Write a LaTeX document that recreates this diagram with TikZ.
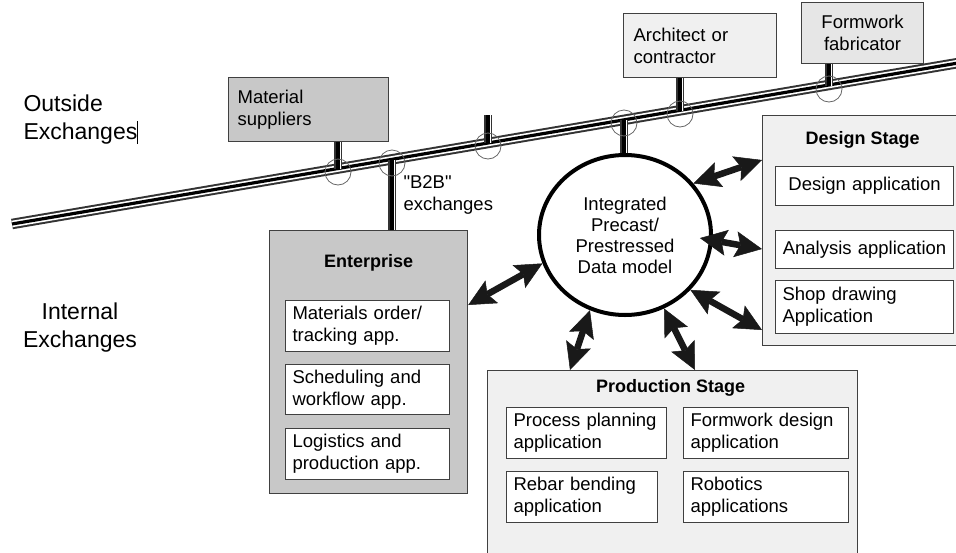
\documentclass[tikz,border=0pt]{standalone}
\usepackage{fontspec}
\setmainfont{Liberation Sans}[Ligatures=TeXOff]
\usetikzlibrary{arrows.meta,shapes.geometric,positioning}

\definecolor{boxgray}{HTML}{C8C8C8}
\definecolor{palegray}{HTML}{F0F0F0}
\definecolor{lightgray}{HTML}{E6E6E6}
\definecolor{edgegray}{HTML}{404040}
\newcommand{\appfont}{\fontsize{18.5}{22}\selectfont}

\begin{document}
\begin{tikzpicture}[x=1pt, y=-1pt,
    pipe/.style={line width=6.5pt, white, preaction={draw, black!80, line width=10.5pt}, postaction={draw, black, line width=3.2pt}},
    stub/.style={line width=5pt, white, preaction={draw, black!80, line width=8pt}, postaction={draw, black, line width=3.5pt}},
    joint/.style={draw=black!60, line width=0.8pt},
    party/.style={draw=edgegray, line width=1.2pt, anchor=north west, align=left, font=\appfont},
    stage/.style={draw=edgegray, line width=1.2pt, anchor=north west, inner sep=0pt},
    ttl/.style={font=\fontsize{18}{21}\selectfont\bfseries},
    app/.style={draw=edgegray, fill=white, line width=1.1pt, anchor=north west, align=left, inner xsep=7pt, inner ysep=0pt, minimum height=51pt, font=\appfont, text width=#1},
    app/.default=150pt,
    dmodel/.style={ellipse, draw, line width=4pt, minimum width=172pt, minimum height=160pt, inner sep=0pt, align=center, font=\fontsize{18.5}{21}\selectfont},
    dbl/.style={{Stealth[length=27pt,width=26pt,inset=5pt,line width=0.5pt]}-{Stealth[length=27pt,width=26pt,inset=5pt,line width=0.5pt]}, line width=6.5pt, black!90},
    side/.style={font=\fontsize{23}{28}\selectfont},
    lbl/.style={font=\appfont, align=left},
]
\useasboundingbox (0,0) rectangle (956,552);

% Outside exchange parties
\node[party, fill=boxgray, minimum width=160pt, minimum height=64pt, text width=142pt, inner xsep=9pt] (sup) at (228,77) {Material\\suppliers};
\node[party, fill=palegray, minimum width=153pt, minimum height=64pt, text width=133pt, inner xsep=10pt] (arch) at (623,13) {Architect or\\contractor};
\node[party, fill=lightgray, align=center, minimum width=122pt, minimum height=61pt, text width=106pt, inner xsep=8pt] (form) at (801,2) {Formwork\\fabricator};

% Stages
\node[stage, fill=boxgray, minimum width=198pt, minimum height=263pt] (ent) at (269,230) {};
\node[stage, fill=palegray, minimum width=194pt, minimum height=230pt] (ds) at (762,115) {};
\node[stage, fill=palegray, minimum width=370pt, minimum height=184pt] (ps) at (487,370) {};
\node[ttl] (entT) at ([yshift=-33pt]ent.north) {Enterprise};
\node[ttl] (dsT) at ([xshift=3pt,yshift=-25pt]ds.north) {Design Stage};
\node[ttl] (psT) at ([xshift=-2pt,yshift=-18pt]ps.north) {Production Stage};

% Enterprise applications
\node[app] (ent1) at (285,300) {Materials order/\\tracking app.};
\node[app, minimum height=50pt] (ent2) at (285,364) {Scheduling and\\workflow app.};
\node[app] (ent3) at (285,428) {Logistics and\\production app.};

% Design applications
\node[app=164pt, align=center, minimum height=39pt] (ds1) at (775,166) {Design application};
\node[app=164pt, align=center, minimum height=38pt] (ds2) at (775,230) {Analysis application};
\node[app=164pt, minimum height=53pt] (ds3) at (775,280) {Shop drawing\\Application};

% Production applications
\node[app=146pt] (ps1) at (506,407) {Process planning\\application};
\node[app=151pt] (ps2) at (683,407) {Formwork design\\application};
\node[app=137pt] (ps3) at (506,471) {Rebar bending\\application};
\node[app=151pt] (ps4) at (683,471) {Robotics\\applications};

% Data model
\node[dmodel] (dm) at (625,235) {Integrated\\Precast/\\Prestressed\\Data model};

% Exchange pipe
\coordinate (pipeL) at (12,224);
\coordinate (pipeR) at (964,62);
\draw[pipe] (pipeL) -- (pipeR);

\coordinate (j1) at (338,169);
\coordinate (j2) at (392,160);
\coordinate (j3) at (488,143);
\coordinate (j3top) at (488,115);
\coordinate (j4) at (624,120);
\coordinate (j5) at (680,111);
\coordinate (j6) at (829,86);

\draw[stub] (j1 |- sup.south) -- (j1);
\draw[stub] (j2) -- (j2 |- ent.north);
\draw[stub] (j3top) -- (j3);
\draw[stub] (j4) -- (j4 |- dm.north);
\draw[stub] (j5 |- arch.south) -- (j5);
\draw[stub] (j6 |- form.south) -- (j6);

\foreach \j in {j1,j2,j3,j4,j5,j6}
  \draw[joint] ([yshift=-3pt]\j) circle[radius=13pt];

% Internal exchanges
\draw[dbl] (dm.199) -- ([yshift=-75pt]ent.north east);
\draw[dbl] (dm.37) -- ([yshift=-45pt]ds.north west);
\draw[dbl] ([xshift=-13pt]dm.-2) -- ([yshift=-134pt]ds.north west);
\draw[dbl] (dm.-40) -- ([yshift=-215pt]ds.north west);
\draw[dbl] (dm.-115) -- ([xshift=83pt]ps.north west);
\draw[dbl] (dm.-62) -- ([xshift=208pt]ps.north west);

% Labels
\node[side, anchor=north west, align=left] (outx) at (20,91) {Outside\\Exchanges\rule[-5pt]{0.9pt}{23pt}};
\node[side, align=center] (intx) at (80,328) {Internal\\Exchanges};
\node[lbl, anchor=north west] (b2b) at (400,172) {"B2B"\\exchanges};

\end{tikzpicture}
\end{document}
